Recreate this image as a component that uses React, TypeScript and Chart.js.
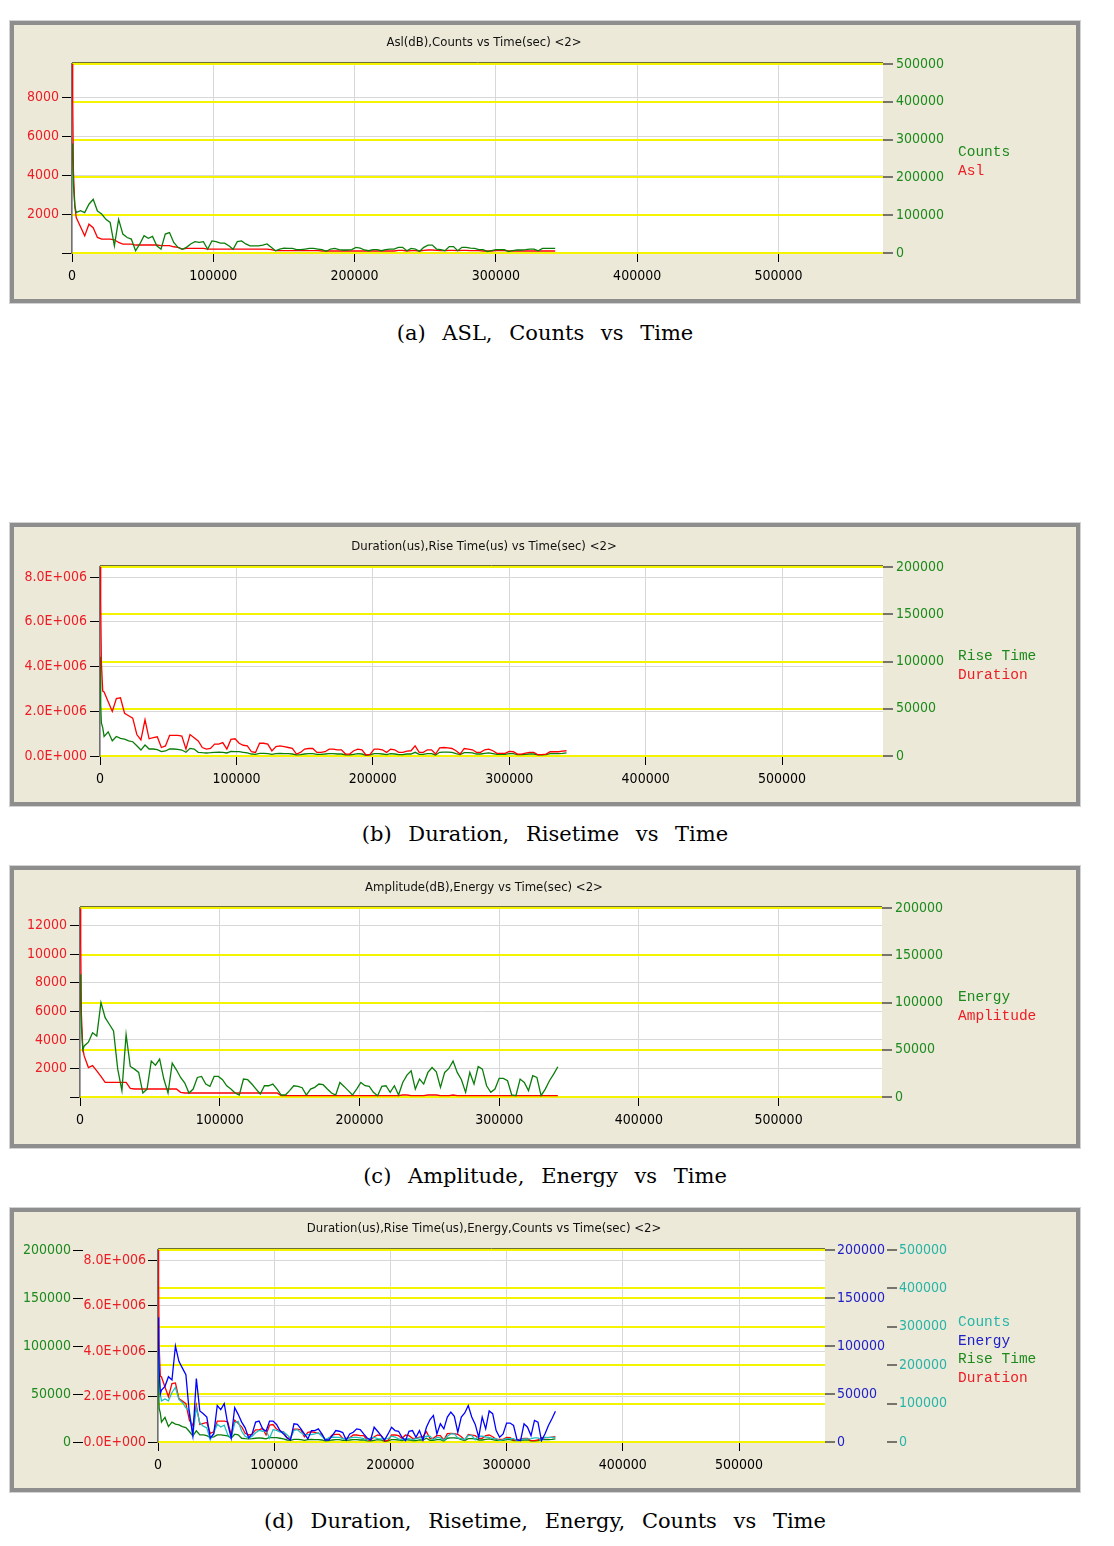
import React, { useEffect, useRef } from 'react';
import { Chart, registerables } from 'chart.js';

Chart.register(...registerables);

// ---------- data (time in seconds) ----------
const TIME = [0, 500, 1000, 2000, 3000, 6000, 9000, 12000, 15000, 18000, 21000, 24000, 27000, 30000,
  33000, 36000, 39000, 42000, 45000, 48000, 51000, 54000, 57000, 60000, 63000, 66000, 69000, 72000,
  75000, 78000, 81000, 84000, 87000, 90000, 93000, 96000, 99000, 102000, 105000, 108000, 111000,
  114000, 117000, 120000, 123000, 126000, 129000, 132000, 135000, 138000, 141000, 144000, 147000,
  150000, 153000, 156000, 159000, 162000, 165000, 168000, 171000, 174000, 177000, 180000, 183000,
  186000, 189000, 192000, 195000, 198000, 201000, 204000, 207000, 210000, 213000, 216000, 219000,
  222000, 225000, 228000, 231000, 234000, 237000, 240000, 243000, 246000, 249000, 252000, 255000,
  258000, 261000, 264000, 267000, 270000, 273000, 276000, 279000, 282000, 285000, 288000, 291000,
  294000, 297000, 300000, 303000, 306000, 309000, 312000, 315000, 318000, 321000, 324000, 327000,
  330000, 333000, 336000, 339000, 342000];

const COUNTS = [290000, 250000, 180000, 125000,
  107000, 112000, 107000, 129000, 142000, 111000, 103000, 89000, 81000, 19000,
  89000, 50000, 41000, 37000, 6000, 24000, 46000, 39000, 44000, 19000,
  10000, 50000, 54000, 28000, 15000, 10000, 15000, 24000, 30000, 28000,
  30000, 10000, 32000, 30000, 26000, 26000, 19000, 10000, 30000, 32000,
  24000, 19000, 19000, 19000, 21000, 24000, 15000, 6000, 10500, 13000,
  12000, 12000, 9000, 9000, 10500, 12000, 12000, 10500, 9000, 4400,
  10500, 12000, 9000, 8000, 8000, 9000, 15000, 13000, 8000, 6000,
  9000, 9000, 6000, 9000, 10500, 10500, 15000, 15000, 6000, 12000,
  10500, 4400, 15000, 21000, 21000, 10500, 9000, 6000, 17000, 17000,
  6000, 15000, 15000, 13000, 12000, 9000, 9000, 3500, 6000, 9000,
  9000, 9000, 3500, 6000, 8000, 8000, 9000, 10500, 10500, 6000,
  12000, 12000, 12000, 12000];

const ASL = [9700, 7800, 4200, 2400,
  1820, 1350, 880, 1480, 1300, 800, 714, 714, 714, 680,
  540, 460, 460, 460, 410, 410, 410, 410, 410, 410,
  374, 374, 374, 320, 290, 204, 238, 238, 238, 238,
  238, 204, 204, 204, 204, 204, 204, 204, 204, 204,
  204, 204, 204, 204, 204, 204, 170, 119, 119, 119,
  119, 119, 119, 119, 119, 119, 119, 119, 102, 102,
  102, 102, 102, 102, 102, 102, 102, 102, 102, 102,
  102, 102, 102, 102, 102, 102, 136, 136, 102, 119,
  119, 102, 136, 153, 153, 136, 119, 119, 136, 136,
  119, 136, 136, 119, 119, 119, 102, 102, 102, 119,
  119, 119, 102, 102, 102, 102, 102, 102, 102, 102,
  102, 102, 102, 102];

const DURATION = [8450000, 6900000, 4200000, 2900000,
  2860000, 2420000, 1990000, 2570000, 2600000, 1910000, 1800000, 1690000, 960000, 720000,
  1620000, 770000, 820000, 860000, 380000, 450000, 920000, 920000, 920000, 890000,
  310000, 960000, 820000, 670000, 380000, 310000, 340000, 530000, 530000, 600000,
  310000, 740000, 770000, 570000, 480000, 450000, 190000, 160000, 570000, 570000,
  530000, 230000, 420000, 450000, 420000, 380000, 340000, 88000, 160000, 310000,
  336000, 336000, 160000, 160000, 190000, 307000, 307000, 277000, 277000, 88000,
  88000, 234000, 307000, 277000, 44000, 73000, 307000, 307000, 277000, 161000,
  307000, 277000, 161000, 161000, 219000, 234000, 453000, 161000, 161000, 277000,
  277000, 88000, 365000, 380000, 365000, 336000, 234000, 88000, 336000, 307000,
  277000, 161000, 161000, 277000, 307000, 234000, 117000, 117000, 117000, 204000,
  190000, 88000, 88000, 131000, 161000, 161000, 58000, 58000, 88000, 190000,
  190000, 190000, 219000, 234000];

const RISE_TIME = [105000, 55000, 35000, 30000,
  20700, 25600, 16100, 20700, 18600, 17900, 16100, 15100, 10900, 6300,
  11600, 7400, 7400, 6700, 4600, 5300, 7400, 7400, 7000, 6300,
  3900, 8100, 7400, 3900, 3500, 3200, 3500, 3900, 4200, 3900,
  3200, 4900, 4600, 4600, 3900, 3200, 2100, 1800, 2800, 2800,
  2500, 1800, 2500, 2800, 2500, 2500, 2100, 1100, 1400, 2100,
  2500, 2500, 1800, 1800, 2100, 2500, 2500, 2100, 2100, 1100,
  1100, 1800, 2500, 2100, 700, 1100, 2500, 2500, 2100, 1400,
  2500, 2100, 1400, 1400, 2100, 2100, 3900, 1800, 1800, 2500,
  2500, 1100, 3900, 4200, 4200, 3900, 2500, 1400, 3500, 3500,
  3200, 2100, 2100, 2800, 3200, 2500, 1800, 1800, 1800, 2500,
  2500, 1400, 1400, 1800, 2100, 2100, 1100, 1100, 1400, 2500,
  2500, 2500, 2800, 3200];

const ENERGY = [130000, 100000, 75000, 50000,
  54000, 58000, 68000, 64600, 100000, 84000, 77000, 70000, 29500, 6700,
  66000, 32300, 29500, 26000, 4200, 8400, 38000, 33700, 40000, 19000,
  4200, 35800, 28800, 20700, 14700, 4200, 8400, 20700, 21800, 13700,
  11200, 21800, 21800, 18300, 11900, 8400, 4200, 2100, 19000, 18300,
  13700, 8400, 3200, 11900, 11900, 13700, 8400, 2100, 2100, 6700,
  11900, 11200, 9800, 2100, 8400, 10200, 13700, 13000, 8400, 4200,
  2100, 15400, 11200, 6700, 2100, 8400, 15400, 11900, 11200, 4900,
  1400, 11200, 11900, 4900, 11900, 2100, 15400, 23200, 27700, 8400,
  19000, 13700, 26000, 31200, 26700, 10200, 26000, 30200, 38000, 26000,
  18300, 4900, 26000, 13700, 32300, 29500, 11900, 4900, 8400, 19700,
  19700, 17200, 2100, 1400, 19000, 15400, 6700, 22500, 20700, 1400,
  8400, 17200, 24200, 32000];

const AMPLITUDE = [13200, 10700, 5800, 3400,
  2880, 2060, 2200, 1830, 1440, 1020, 1020, 1020, 1020, 1020,
  1020, 600, 560, 560, 560, 560, 560, 560, 560, 560,
  560, 560, 560, 325, 280, 280, 280, 280, 280, 280,
  280, 280, 280, 280, 280, 280, 280, 280, 280, 280,
  280, 280, 280, 280, 280, 280, 280, 93, 93, 93,
  93, 93, 93, 93, 93, 93, 93, 93, 93, 93,
  93, 93, 93, 93, 93, 93, 93, 93, 93, 93,
  93, 93, 93, 93, 93, 93, 140, 140, 93, 93,
  93, 93, 140, 140, 140, 93, 93, 93, 140, 93,
  93, 93, 93, 93, 93, 93, 93, 93, 93, 93,
  93, 93, 93, 93, 93, 93, 93, 93, 93, 93,
  93, 93, 93, 93];

// ---------- tick values ----------
const X_MAX = 574000;
const X_TICKS = [0, 100000, 200000, 300000, 400000, 500000];
const ASL_TICKS = [0, 2000, 4000, 6000, 8000];
const COUNTS_TICKS = [0, 100000, 200000, 300000, 400000, 500000];
const DUR_TICKS = [0, 2000000, 4000000, 6000000, 8000000];
const RISE_TICKS = [0, 50000, 100000, 150000, 200000];
const AMP_TICKS = [0, 2000, 4000, 6000, 8000, 10000, 12000];
const ENERGY_TICKS = [0, 50000, 100000, 150000, 200000];

// ---------- styles ----------
const AX_FAMILY = "'DejaVu Sans Condensed','Liberation Sans Narrow',sans-serif";
const AX_FONT = { family: AX_FAMILY, size: 14 };
const RED = '#ff0000';
const GREEN = '#0a7d0a';
const BLUE = '#0000ff';
const CYAN = '#1cc0c0';
const RED_TXT = '#ee1c24';
const GREEN_TXT = '#1d8a1d';
const BLUE_TXT = '#2020c8';
const CYAN_TXT = '#26b4a8';
const YELLOW = '#f4f400';
const GRAY_GRID = '#d8d8d8';

const pts = (ys: number[]) => TIME.map((t, i) => ({ x: t, y: ys[i] }));
const plain = (v: number) => String(v);
const noZero = (v: number) => (v === 0 ? '' : String(v));
const sci = (v: number) => {
  if (v === 0) return '0.0E+000';
  const [m, e] = v.toExponential(1).split('e');
  const n = parseInt(e, 10);
  return `${m}E${n < 0 ? '-' : '+'}${String(Math.abs(n)).padStart(3, '0')}`;
};

function yAxis(o: any) {
  return {
    type: 'linear',
    position: o.position,
    min: 0,
    max: o.max,
    weight: o.weight ?? 0,
    grid: {
      drawOnChartArea: !!o.grid,
      color: o.grid || 'rgba(0,0,0,0)',
      lineWidth: o.gridWidth ?? 1,
      tickLength: 10,
      tickColor: '#000',
      tickWidth: 1,
    },
    border: { display: !!o.border, color: '#707070', width: 1.5 },
    ticks: {
      autoSkip: false,
      color: o.color,
      font: AX_FONT,
      padding: o.pad ?? 3,
      callback: (v: any) => o.fmt(Number(v)),
    },
    afterBuildTicks: (s: any) => { s.ticks = o.ticks.map((v: number) => ({ value: v })); },
    afterFit: (s: any) => { s.width = o.width; },
  };
}

function xAxis() {
  return {
    type: 'linear',
    position: 'bottom',
    min: 0,
    max: X_MAX,
    grid: { color: GRAY_GRID, lineWidth: 1, tickLength: 9, tickColor: '#000' },
    border: { display: false },
    ticks: {
      autoSkip: false,
      maxRotation: 0,
      color: '#000',
      font: AX_FONT,
      padding: 6,
      callback: (v: any) => String(v),
    },
    afterBuildTicks: (s: any) => { s.ticks = X_TICKS.map((v) => ({ value: v })); },
    afterFit: (s: any) => { s.height = 36; },
  };
}

const plotFrame = {
  id: 'plotFrame',
  beforeDraw(chart: any) {
    const { ctx, chartArea: a } = chart;
    ctx.save();
    ctx.fillStyle = '#ffffff';
    ctx.fillRect(a.left, a.top, a.right - a.left, a.bottom - a.top);
    ctx.restore();
  },
  afterDraw(chart: any) {
    const { ctx, chartArea: a } = chart;
    ctx.save();
    ctx.strokeStyle = '#6e6e3a';
    ctx.lineWidth = 1;
    ctx.beginPath();
    ctx.moveTo(a.left, a.top - 1.5);
    ctx.lineTo(a.right, a.top - 1.5);
    ctx.stroke();
    ctx.restore();
  },
};

const line = (label: string, data: number[], color: string, axis: string) => ({
  label,
  data: pts(data),
  yAxisID: axis,
  borderColor: color,
  backgroundColor: color,
  borderWidth: 1.3,
  pointRadius: 0,
  tension: 0,
  fill: false,
});

function makeConfig(datasets: any[], scales: any, padding: any) {
  return {
    type: 'line',
    data: { datasets },
    options: {
      responsive: false,
      animation: false,
      devicePixelRatio: 1,
      parsing: false,
      events: [],
      layout: { padding },
      plugins: { legend: { display: false }, title: { display: false }, tooltip: { enabled: false } },
      scales,
    },
    plugins: [plotFrame],
  };
}

const PANELS = [
  {
    key: 'a', top: 21, height: 282, titleY: 42, captionY: 333,
    title: 'Asl(dB),Counts vs Time(sec) <2>',
    caption: '(a) ASL, Counts vs Time',
    legend: [{ text: 'Counts', color: GREEN_TXT }, { text: 'Asl', color: RED_TXT }],
    legendY: 152,
    config: () => makeConfig(
      [line('Counts', COUNTS, GREEN, 'yR'), line('Asl', ASL, RED, 'yL')],
      {
        x: xAxis(),
        yL: yAxis({ position: 'left', max: 9700, ticks: ASL_TICKS, color: RED_TXT, width: 60, grid: GRAY_GRID, fmt: noZero, border: true }),
        yR: yAxis({ position: 'right', max: 500000, ticks: COUNTS_TICKS, color: GREEN_TXT, width: 80, grid: YELLOW, gridWidth: 2, fmt: plain }),
      },
      { left: 12, right: 151, top: 43, bottom: 14 },
    ),
  },
  {
    key: 'b', top: 523, height: 283, titleY: 546, captionY: 834,
    title: 'Duration(us),Rise Time(us) vs Time(sec) <2>',
    caption: '(b) Duration, Risetime vs Time',
    legend: [{ text: 'Rise Time', color: GREEN_TXT }, { text: 'Duration', color: RED_TXT }],
    legendY: 656,
    config: () => makeConfig(
      [line('Duration', DURATION, RED, 'yL'), line('Rise Time', RISE_TIME, GREEN, 'yR')],
      {
        x: xAxis(),
        yL: yAxis({ position: 'left', max: 8450000, ticks: DUR_TICKS, color: RED_TXT, width: 88, grid: GRAY_GRID, fmt: sci, border: true }),
        yR: yAxis({ position: 'right', max: 200000, ticks: RISE_TICKS, color: GREEN_TXT, width: 80, grid: YELLOW, gridWidth: 2, fmt: plain }),
      },
      { left: 12, right: 151, top: 44, bottom: 14 },
    ),
  },
  {
    key: 'c', top: 866, height: 282, titleY: 887, captionY: 1176,
    title: 'Amplitude(dB),Energy vs Time(sec) <2>',
    caption: '(c) Amplitude, Energy vs Time',
    legend: [{ text: 'Energy', color: GREEN_TXT }, { text: 'Amplitude', color: RED_TXT }],
    legendY: 997,
    config: () => makeConfig(
      [line('Energy', ENERGY, GREEN, 'yR'), line('Amplitude', AMPLITUDE, RED, 'yL')],
      {
        x: xAxis(),
        yL: yAxis({ position: 'left', max: 13240, ticks: AMP_TICKS, color: RED_TXT, width: 68, grid: GRAY_GRID, fmt: noZero, border: true }),
        yR: yAxis({ position: 'right', max: 200000, ticks: ENERGY_TICKS, color: GREEN_TXT, width: 80, grid: YELLOW, gridWidth: 2, fmt: plain }),
      },
      { left: 12, right: 152, top: 42, bottom: 15 },
    ),
  },
  {
    key: 'd', top: 1208, height: 284, titleY: 1228, captionY: 1521,
    title: 'Duration(us),Rise Time(us),Energy,Counts vs Time(sec) <2>',
    caption: '(d) Duration, Risetime, Energy, Counts vs Time',
    legend: [
      { text: 'Counts', color: CYAN_TXT },
      { text: 'Energy', color: BLUE_TXT },
      { text: 'Rise Time', color: GREEN_TXT },
      { text: 'Duration', color: RED_TXT },
    ],
    legendY: 1322,
    config: () => makeConfig(
      [
        line('Energy', ENERGY, BLUE, 'yEn'),
        line('Counts', COUNTS, CYAN, 'yCnt'),
        line('Duration', DURATION, RED, 'yDur'),
        line('Rise Time', RISE_TIME, GREEN, 'yRise'),
      ],
      {
        x: xAxis(),
        yDur: yAxis({ position: 'left', weight: 0, max: 8450000, ticks: DUR_TICKS, color: RED_TXT, width: 75, pad: 2, grid: GRAY_GRID, fmt: sci, border: true }),
        yRise: yAxis({ position: 'left', weight: 1, max: 200000, ticks: RISE_TICKS, color: GREEN_TXT, width: 71, pad: 2, fmt: plain }),
        yEn: yAxis({ position: 'right', weight: 0, max: 200000, ticks: ENERGY_TICKS, color: BLUE_TXT, width: 62, pad: 2, grid: YELLOW, gridWidth: 2, fmt: plain }),
        yCnt: yAxis({ position: 'right', weight: 1, max: 500000, ticks: COUNTS_TICKS, color: CYAN_TXT, width: 76, pad: 2, grid: YELLOW, gridWidth: 2, fmt: plain }),
      },
      { left: 12, right: 151, top: 42, bottom: 14 },
    ),
  },
];

function Panel({ p }: { p: any }) {
  const ref = useRef<HTMLCanvasElement | null>(null);
  useEffect(() => {
    if (!ref.current) return;
    const chart = new Chart(ref.current, p.config() as any);
    return () => chart.destroy();
  }, []);
  return (
    <>
      <div
        style={{
          position: 'absolute', left: 10, top: p.top, width: 1070, height: p.height,
          boxSizing: 'border-box', background: '#ece9d8',
          border: '4px solid #8e8e8e', boxShadow: '0 0 0 1px #d2d2d2',
        }}
      />
      <canvas
        ref={ref}
        width={1114}
        height={p.height}
        style={{ position: 'absolute', left: 0, top: p.top, width: 1114, height: p.height }}
      />
      <div
        style={{
          position: 'absolute', left: 484 - 300, width: 600, top: p.titleY - 10, height: 20,
          lineHeight: '20px', textAlign: 'center', fontFamily: AX_FAMILY, fontSize: 13, color: '#111',
          whiteSpace: 'pre',
        }}
      >
        {p.title}
      </div>
      {p.legend.map((l: any, i: number) => (
        <div
          key={l.text}
          style={{
            position: 'absolute', left: 958, top: p.legendY - 9 + i * 18.5, height: 18,
            lineHeight: '18px', fontFamily: "'Liberation Mono','DejaVu Sans Mono',monospace",
            fontSize: 14.5, color: l.color, whiteSpace: 'pre',
          }}
        >
          {l.text}
        </div>
      ))}
      <div
        style={{
          position: 'absolute', left: 545 - 400, width: 800, top: p.captionY - 13, height: 26,
          lineHeight: '26px', textAlign: 'center', fontFamily: "'DejaVu Serif',serif",
          fontSize: 21, wordSpacing: 10, color: '#000', whiteSpace: 'pre',
        }}
      >
        {p.caption}
      </div>
    </>
  );
}

export default function App() {
  return (
    <div style={{ position: 'absolute', left: 0, top: 0, width: 1114, height: 1546, background: '#fff', overflow: 'hidden' }}>
      {PANELS.map((p) => (
        <Panel key={p.key} p={p} />
      ))}
    </div>
  );
}
